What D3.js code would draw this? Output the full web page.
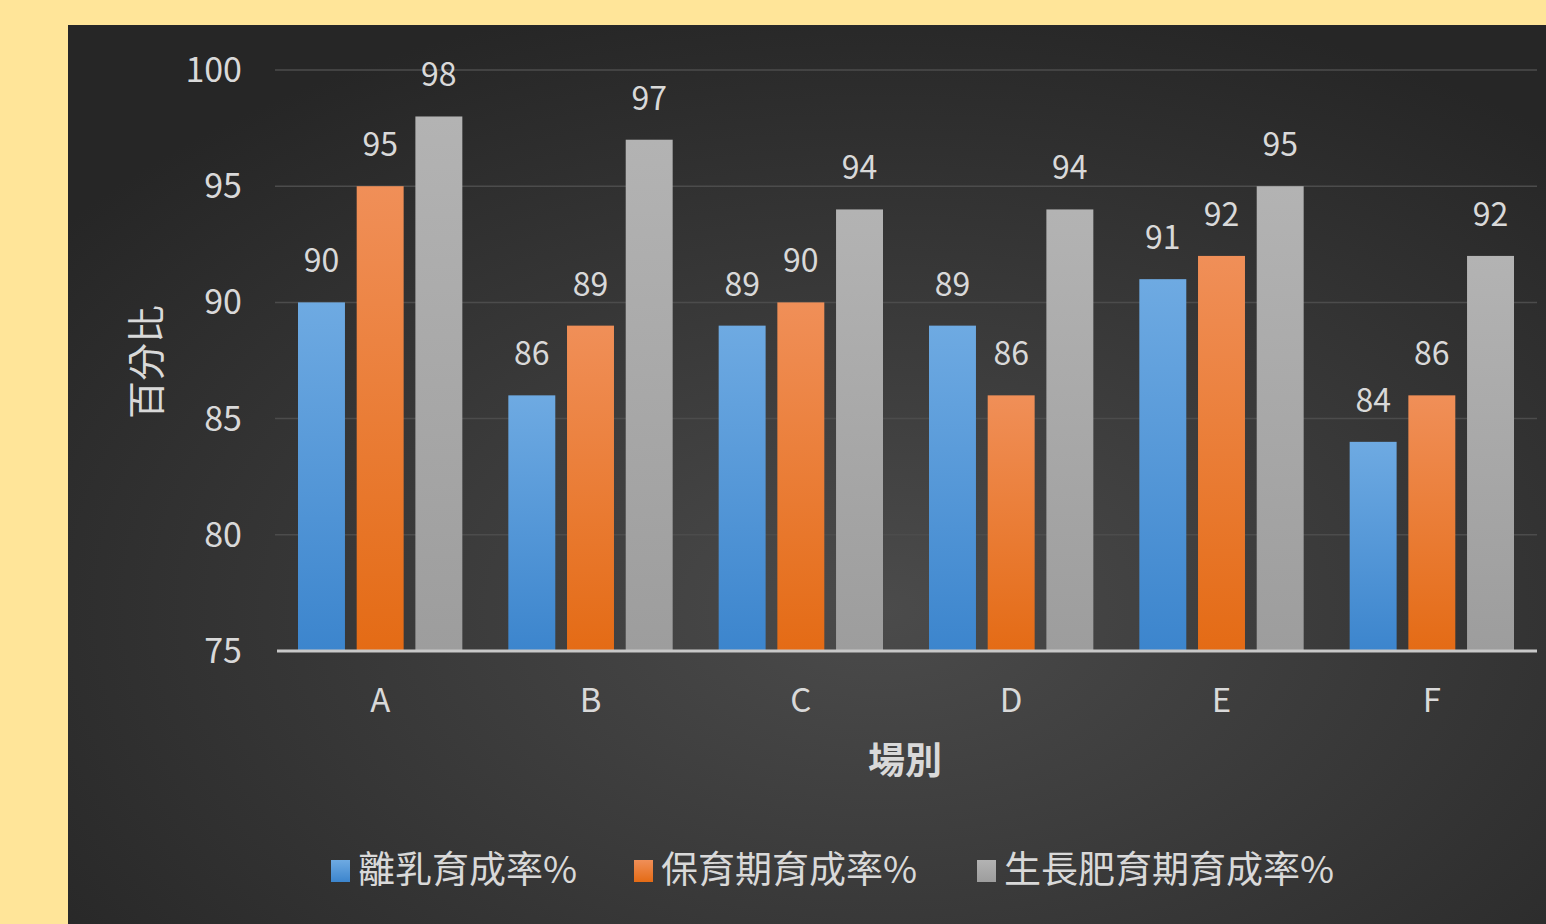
<!DOCTYPE html>
<html lang="zh-Hant">
<head>
<meta charset="UTF-8">
<title>場別育成率</title>
<script src="https://d3js.org/d3.v7.min.js"></script>
<style>
  html, body { margin: 0; padding: 0; background: #ffe599; }
  svg { display: block; }
  text { font-family: "Noto Sans CJK TC", "Noto Sans", sans-serif; }
</style>
</head>
<body>
<div id="chart"></div>
<script>
const farms = ["A", "B", "C", "D", "E", "F"];
const seriesNames = ["離乳育成率%", "保育期育成率%", "生長肥育期育成率%"];
const weaning = [90, 86, 89, 89, 91, 84];
const nursery = [95, 89, 90, 86, 92, 86];
const finishing = [98, 97, 94, 94, 95, 92];
const yTicks = [75, 80, 85, 90, 95, 100];

const series = [weaning, nursery, finishing];
const gradients = [["#6eaae2", "#3c85cd"], ["#f08f58", "#e46b15"], ["#b3b3b3", "#9d9d9d"]];

const width = 1546, height = 924;
const svg = d3.select("#chart").append("svg")
    .attr("width", width)
    .attr("height", height);

const defs = svg.append("defs");
const bg = defs.append("radialGradient").attr("id", "bg")
    .attr("cx", "55%").attr("cy", "65%").attr("r", "70%");
bg.append("stop").attr("offset", "0%").attr("stop-color", "#4b4b4b");
bg.append("stop").attr("offset", "100%").attr("stop-color", "#262626");

gradients.forEach((g, i) => {
    const lg = defs.append("linearGradient").attr("id", "bar" + i)
        .attr("x1", 0).attr("y1", 0).attr("x2", 0).attr("y2", 1);
    lg.append("stop").attr("offset", "0%").attr("stop-color", g[0]);
    lg.append("stop").attr("offset", "100%").attr("stop-color", g[1]);
});

// dark panel
svg.append("rect")
    .attr("x", 68).attr("y", 25)
    .attr("width", width - 68).attr("height", height - 25)
    .attr("fill", "url(#bg)");

const plotLeft = 275, plotRight = 1537;
const x = d3.scaleBand().domain(farms).range([plotLeft, plotRight]).paddingInner(0).paddingOuter(0);
const y = d3.scaleLinear().domain([75, 100]).range([651, 70]);
const inner = d3.scaleBand().domain(d3.range(series.length))
    .range([23, x.bandwidth() - 23]).paddingInner(0.2).paddingOuter(0);

// gridlines
svg.append("g").selectAll("line")
    .data(yTicks.filter(t => t > 75))
    .join("line")
    .attr("x1", plotLeft).attr("x2", plotRight)
    .attr("y1", d => y(d)).attr("y2", d => y(d))
    .attr("stroke", "#4c4c4c").attr("stroke-width", 1.5);

// y tick labels
svg.append("g").selectAll("text")
    .data(yTicks)
    .join("text")
    .attr("x", 242).attr("y", d => y(d))
    .attr("dy", "0.35em")
    .attr("text-anchor", "end")
    .attr("fill", "#d9d9d9")
    .attr("font-size", 34)
    .text(d => d);

// bars
series.forEach((vals, si) => {
    const g = svg.append("g");
    g.selectAll("rect")
        .data(vals)
        .join("rect")
        .attr("x", (d, i) => x(farms[i]) + inner(si))
        .attr("y", d => y(d))
        .attr("width", inner.bandwidth())
        .attr("height", d => y(75) - y(d))
        .attr("fill", "url(#bar" + si + ")");
    g.selectAll("text")
        .data(vals)
        .join("text")
        .attr("x", (d, i) => x(farms[i]) + inner(si) + inner.bandwidth() / 2)
        .attr("y", d => y(d) - 30)
        .attr("text-anchor", "middle")
        .attr("fill", "#d9d9d9")
        .attr("font-size", 32)
        .text(d => d);
});

// baseline
svg.append("line")
    .attr("x1", plotLeft + 2).attr("x2", plotRight)
    .attr("y1", y(75)).attr("y2", y(75))
    .attr("stroke", "#c8c8c8").attr("stroke-width", 3);

// category labels
svg.append("g").selectAll("text")
    .data(farms)
    .join("text")
    .attr("x", d => x(d) + x.bandwidth() / 2)
    .attr("y", 712)
    .attr("text-anchor", "middle")
    .attr("fill", "#d9d9d9")
    .attr("font-size", 33)
    .text(d => d);

// axis titles
svg.append("text")
    .attr("x", 905).attr("y", 760)
    .attr("dy", "0.38em")
    .attr("text-anchor", "middle")
    .attr("fill", "#d9d9d9")
    .attr("font-size", 37)
    .attr("font-weight", "bold")
    .text("場別");

svg.append("text")
    .attr("transform", "translate(146,362) rotate(-90)")
    .attr("dy", "0.38em")
    .attr("text-anchor", "middle")
    .attr("fill", "#d9d9d9")
    .attr("font-size", 38)
    .text("百分比");

// legend
const legendX = [331, 634, 977];
const legend = svg.append("g").selectAll("g")
    .data(seriesNames)
    .join("g")
    .attr("transform", (d, i) => `translate(${legendX[i]},870)`);
legend.append("rect")
    .attr("x", 0).attr("y", -10)
    .attr("width", 19).attr("height", 22)
    .attr("fill", (d, i) => "url(#bar" + i + ")");
legend.append("text")
    .attr("x", 27).attr("y", 0)
    .attr("dy", "0.35em")
    .attr("fill", "#d9d9d9")
    .attr("font-size", 37)
    .text(d => d);
</script>
</body>
</html>
